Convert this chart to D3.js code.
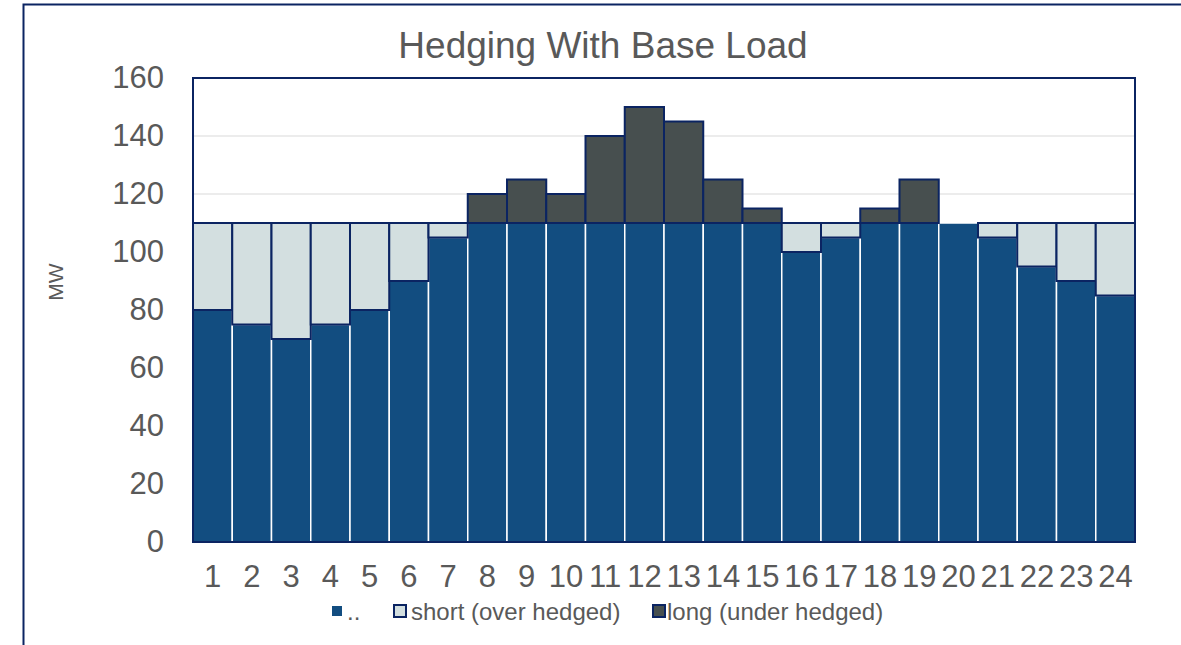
<!DOCTYPE html>
<html>
<head>
<meta charset="utf-8">
<script src="https://cdn.jsdelivr.net/npm/d3@7"></script>
<style>
  body { margin: 0; background: #fff; }
  text { font-family: Arial, "Liberation Sans", sans-serif; fill: #595959; }
</style>
</head>
<body>
<div id="chart"></div>
<script>
(function() {
    'use strict';

    var hours = d3.range(1, 25);
    var load  = [80, 75, 70, 75, 80, 90, 105, 120, 125, 120, 140, 150,
                 145, 125, 115, 100, 105, 115, 125, 110, 105, 95, 90, 85];
    var baseLoad = 110;
    var yTicks = [0, 20, 40, 60, 80, 100, 120, 140, 160];
    var legendLabels = ['..', 'short (over hedged)', 'long (under hedged)'];

    var width = 1181, height = 645;
    var left = 193, right = 1135, top = 78, bottom = 542;

    var navy = '#0b2462';
    var blue = '#124d80';
    var light = '#d3dfe0';
    var grey = '#474f4f';

    var svg = d3.select('#chart').append('svg')
        .attr('width', width)
        .attr('height', height);

    // outer chart frame, runs past the right and bottom edge
    svg.append('rect')
        .attr('x', 23.5).attr('y', 4.5)
        .attr('width', 1200).attr('height', 700)
        .attr('fill', 'white')
        .attr('stroke', navy)
        .attr('stroke-width', 2);

    var x = d3.scaleBand().domain(hours).range([left, right]).padding(0);
    var y = d3.scaleLinear().domain([0, 160]).range([bottom, top]);

    // grid
    svg.append('g')
        .selectAll('line')
        .data(yTicks)
        .join('line')
            .attr('x1', left).attr('x2', right)
            .attr('y1', function(d) { return y(d); })
            .attr('y2', function(d) { return y(d); })
            .attr('stroke', '#d9d9d9')
            .attr('stroke-width', 1);

    // load up to base
    svg.append('g')
        .selectAll('rect')
        .data(hours)
        .join('rect')
            .attr('x', function(d) { return x(d); })
            .attr('width', x.bandwidth())
            .attr('y', function(d, i) { return y(Math.min(load[i], baseLoad)); })
            .attr('height', function(d, i) { return y(0) - y(Math.min(load[i], baseLoad)); })
            .attr('fill', blue)
            .attr('stroke', 'white')
            .attr('stroke-width', 1.5);

    // short: base above load
    svg.append('g')
        .selectAll('rect')
        .data(hours.filter(function(d, i) { return load[i] < baseLoad; }))
        .join('rect')
            .attr('x', function(d) { return x(d); })
            .attr('width', x.bandwidth())
            .attr('y', y(baseLoad))
            .attr('height', function(d) { return y(load[d - 1]) - y(baseLoad); })
            .attr('fill', light)
            .attr('stroke', navy)
            .attr('stroke-width', 2);

    // long: load above base
    svg.append('g')
        .selectAll('rect')
        .data(hours.filter(function(d, i) { return load[i] > baseLoad; }))
        .join('rect')
            .attr('x', function(d) { return x(d); })
            .attr('width', x.bandwidth())
            .attr('y', function(d) { return y(load[d - 1]); })
            .attr('height', function(d) { return y(baseLoad) - y(load[d - 1]); })
            .attr('fill', grey)
            .attr('stroke', navy)
            .attr('stroke-width', 2);

    // plot frame
    svg.append('rect')
        .attr('x', left).attr('y', top)
        .attr('width', right - left).attr('height', bottom - top)
        .attr('fill', 'none')
        .attr('stroke', navy)
        .attr('stroke-width', 2);

    // axes
    var yAxis = svg.append('g')
        .attr('transform', 'translate(' + left + ',0)')
        .call(d3.axisLeft(y).tickValues(yTicks).tickSize(0).tickPadding(29));
    yAxis.select('.domain').remove();
    yAxis.selectAll('text').style('font-size', '31px').attr('fill', '#595959');

    var xAxis = svg.append('g')
        .attr('transform', 'translate(0,' + bottom + ')')
        .call(d3.axisBottom(x).tickSize(0).tickPadding(23));
    xAxis.select('.domain').remove();
    xAxis.selectAll('text').style('font-size', '31px').attr('fill', '#595959');

    svg.append('text')
        .attr('x', 603).attr('y', 58)
        .attr('text-anchor', 'middle')
        .style('font-size', '37px')
        .text('Hedging With Base Load');

    svg.append('text')
        .attr('transform', 'translate(63,282) rotate(-90)')
        .attr('text-anchor', 'middle')
        .style('font-size', '21px')
        .text('MW');

    // legend
    var legend = [
        { x: 332, tx: 347, size: 10, fill: blue,  stroke: 'none', label: legendLabels[0] },
        { x: 394, tx: 411, size: 12, fill: light, stroke: navy,   label: legendLabels[1] },
        { x: 653, tx: 667, size: 12, fill: grey,  stroke: navy,   label: legendLabels[2] }
    ];
    var lg = svg.append('g')
        .selectAll('g')
        .data(legend)
        .join('g');
    lg.append('rect')
        .attr('x', function(d) { return d.x; })
        .attr('y', function(d) { return 611 - d.size / 2; })
        .attr('width', function(d) { return d.size; })
        .attr('height', function(d) { return d.size; })
        .attr('fill', function(d) { return d.fill; })
        .attr('stroke', function(d) { return d.stroke; })
        .attr('stroke-width', 2);
    lg.append('text')
        .attr('x', function(d) { return d.tx; })
        .attr('y', 620)
        .style('font-size', '24px')
        .text(function(d) { return d.label; });
}());
</script>
</body>
</html>
